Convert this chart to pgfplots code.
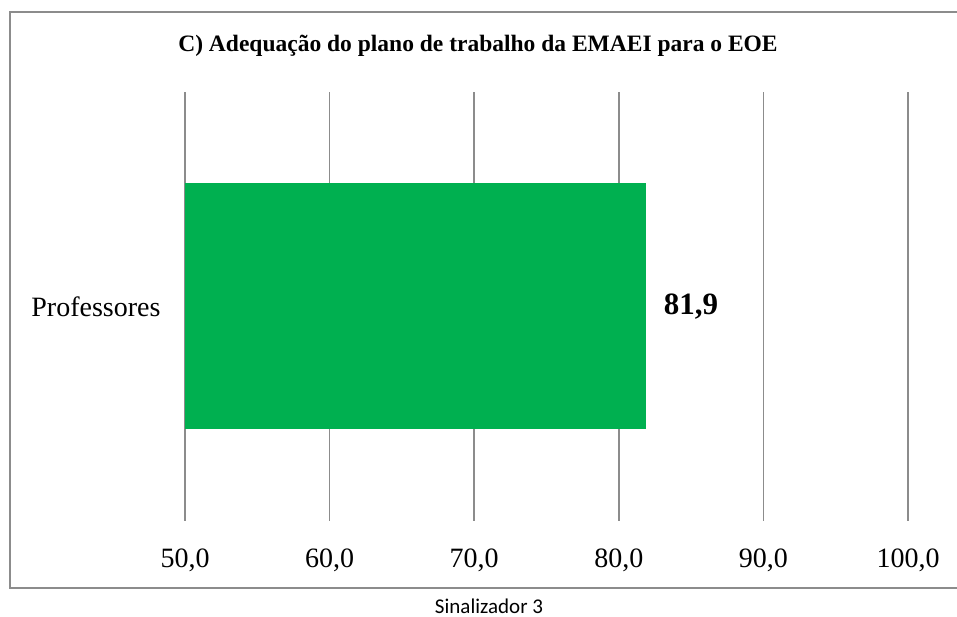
\documentclass[border=0pt]{standalone}
\usepackage{pgfplots}
\pgfplotsset{compat=1.18}
\usepackage{fontspec}
\setmainfont{Liberation Serif}
\newfontfamily\calib{Carlito}
\definecolor{bargreen}{HTML}{00B050}
\definecolor{gridgray}{HTML}{8C8C8C}
\begin{document}
\begin{tikzpicture}[x=1pt,y=1pt]
\path[use as bounding box] (0,0) rectangle (957,617);
\draw[gridgray, line width=1.5pt] (10,605) -- (970,605) -- (970,29) -- (10,29) -- cycle;
\node[font=\bfseries\fontsize{23.5}{26}\selectfont] at (478,571) {C) Adequação do plano de trabalho da EMAEI para o EOE};
\node[font=\calib\fontsize{21}{24}\selectfont] at (489,11) {Sinalizador 3};
\begin{axis}[
  at={(185pt,96pt)}, anchor=south west,
  scale only axis, width=723pt, height=429pt,
  xbar, bar width=246pt,
  xmin=50, xmax=100, ymin=-0.5, ymax=0.5,
  xtick={50,60,70,80,90,100},
  ytick={0}, yticklabels={Professores},
  axis line style={draw=none},
  major tick length=0pt,
  xmajorgrids, grid style={gridgray, line width=1.5pt},
  /pgf/number format/.cd, fixed, fixed zerofill, precision=1, use comma, assume math mode=true,
  /pgfplots/.cd,
  tick label style={font=\fontsize{28}{30}\selectfont},
  xticklabel style={yshift=-24pt},
  yticklabel style={xshift=-21pt},
  point meta=x,
  nodes near coords={\pgfmathprintnumber[fixed,fixed zerofill,precision=1,use comma,assume math mode=true]{\pgfplotspointmeta}},
  nodes near coords style={font=\bfseries\fontsize{31}{33}\selectfont, anchor=west, xshift=14pt},
  clip=true,
]
\addplot[fill=bargreen, draw=none] coordinates {(81.9,0)};
\end{axis}
\end{tikzpicture}
\end{document}
